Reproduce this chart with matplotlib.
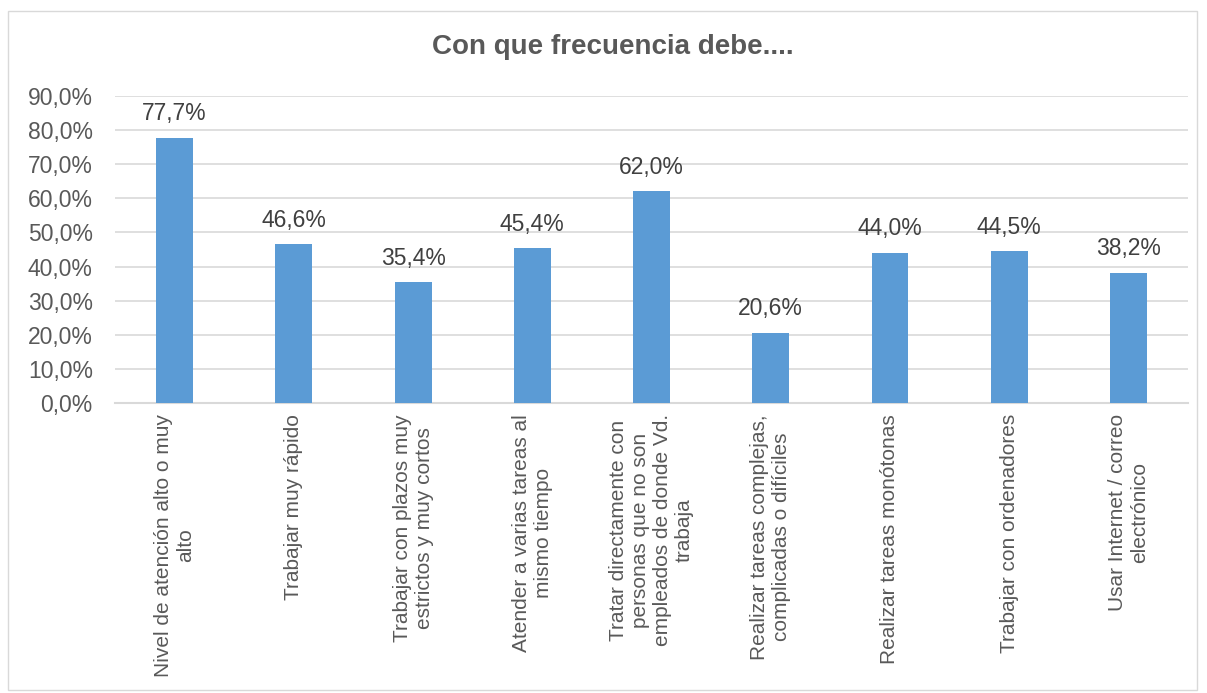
import numpy as np
import matplotlib.pyplot as plt
from matplotlib.patches import Rectangle

categories = [
    "Nivel de atención alto o muy\nalto",
    "Trabajar muy rápido",
    "Trabajar con plazos muy\nestrictos y muy cortos",
    "Atender a varias tareas al\nmismo tiempo",
    "Tratar directamente con\npersonas que no son\nempleados de donde Vd.\ntrabaja",
    "Realizar tareas complejas,\ncomplicadas o difíciles",
    "Realizar tareas monótonas",
    "Trabajar con ordenadores",
    "Usar Internet / correo\nelectrónico",
]
values = [77.7, 46.6, 35.4, 45.4, 62.0, 20.6, 44.0, 44.5, 38.2]
yticks = [0, 10, 20, 30, 40, 50, 60, 70, 80, 90]

plt.rcParams["font.family"] = ["Liberation Sans", "DejaVu Sans"]
text_color = "#595959"

fig = plt.figure(figsize=(12.07, 6.93), dpi=100)
ax = fig.add_axes([0.0953, 0.4185, 0.889, 0.443])

x = np.arange(len(values))
ax.bar(x, values, width=0.31, color="#5B9BD5", zorder=3)

for xi, v in zip(x, values):
    label = f"{v:.1f}%".replace(".", ",")
    ax.annotate(label, (xi, v), xytext=(0, 9), textcoords="offset points",
                ha="center", va="bottom", fontsize=16.5, color="#404040")

ax.set_ylim(0, 90)
ax.set_xlim(-0.5, len(values) - 0.5)
ax.set_yticks(yticks)
ax.set_yticklabels([f"{t:.1f}%".replace(".", ",") for t in yticks],
                   fontsize=16.5, color=text_color)
ax.set_xticks(x)
ax.set_xticklabels(categories, rotation=90, fontsize=15, color=text_color,
                   multialignment="center")
ax.tick_params(length=0, pad=8)
ax.tick_params(axis="y", pad=16)
ax.grid(axis="y", color="#D9D9D9", linewidth=1.2, zorder=0)
for side in ["top", "right", "left"]:
    ax.spines[side].set_visible(False)
ax.spines["bottom"].set_color("#D9D9D9")
ax.spines["bottom"].set_linewidth(1.5)

fig.text(0.508, 0.932, "Con que frecuencia debe....", ha="center", va="center",
         fontsize=20, fontweight="bold", color=text_color)

fig.patches.append(Rectangle((0.007, 0.004), 0.985, 0.98, transform=fig.transFigure,
                             fill=False, edgecolor="#D9D9D9", linewidth=1))

fig.savefig("out.png", dpi=100)
